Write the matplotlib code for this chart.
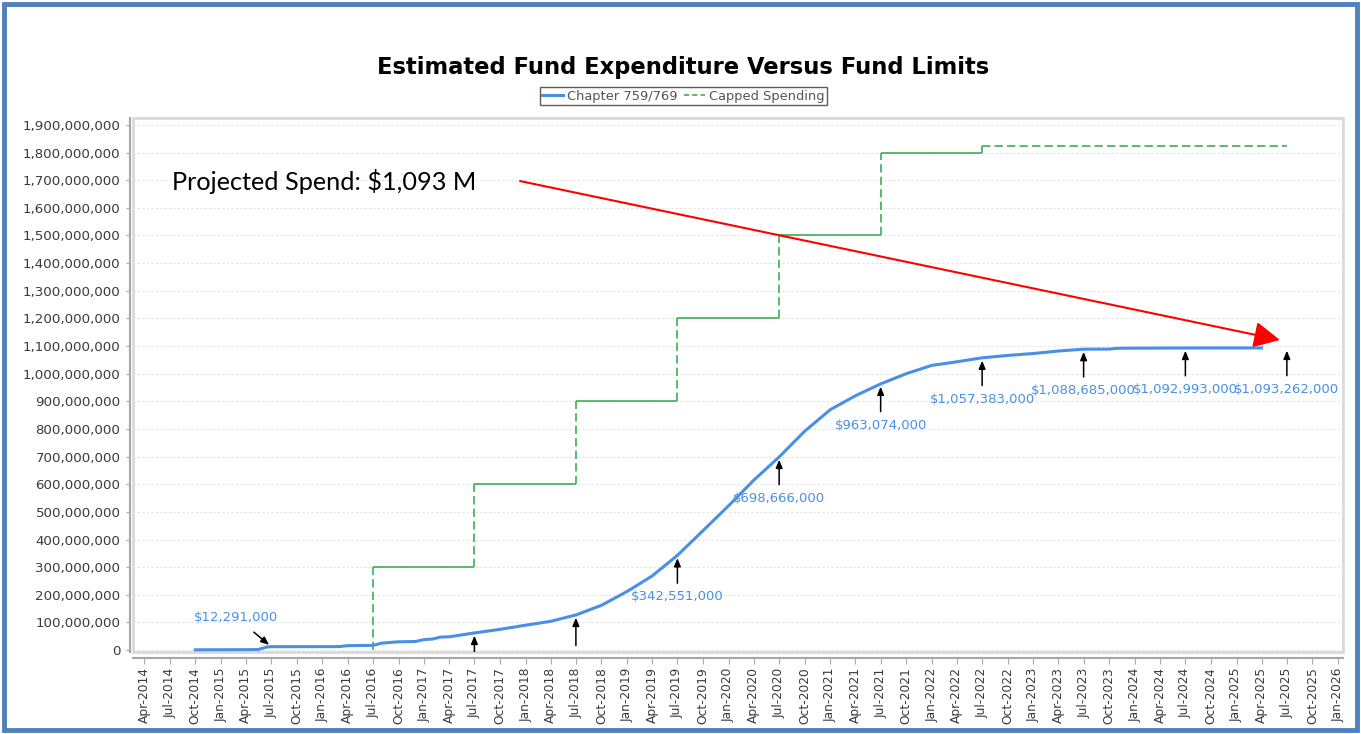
import datetime as dt
import matplotlib
matplotlib.use('Agg')
import matplotlib.pyplot as plt
import matplotlib.dates as mdates
import matplotlib.ticker as mticker
from matplotlib.collections import LineCollection
from matplotlib.lines import Line2D
from matplotlib.patches import Rectangle

#data------------------------------------------
spend_dates = ['2014-10-01', '2015-04-01', '2015-05-15', '2015-06-15', '2015-07-01',
               '2016-03-01', '2016-04-01', '2016-07-01', '2016-08-01', '2016-10-01',
               '2016-12-01', '2017-01-01', '2017-02-01', '2017-03-01', '2017-04-01',
               '2017-07-01', '2017-10-01', '2018-01-01', '2018-04-01', '2018-07-01',
               '2018-10-01', '2019-01-01', '2019-04-01', '2019-07-01', '2019-10-01',
               '2020-01-01', '2020-04-01', '2020-07-01', '2020-10-01', '2021-01-01',
               '2021-04-01', '2021-07-01', '2021-10-01', '2022-01-01', '2022-04-01',
               '2022-07-01', '2022-10-01', '2023-01-01', '2023-04-01', '2023-07-01',
               '2023-10-01', '2023-11-01', '2024-07-01', '2025-04-01']
spend_vals = [1.0e6, 1.5e6, 2.0e6, 11.0e6, 12.291e6,
              12.5e6, 16.0e6, 17.0e6, 25.0e6, 30.0e6,
              31.0e6, 38.0e6, 40.0e6, 47.0e6, 48.0e6,
              62.0e6, 75.0e6, 90.0e6, 104.0e6, 127.0e6,
              162.0e6, 212.0e6, 268.0e6, 342.551e6, 432.0e6,
              522.0e6, 615.0e6, 698.666e6, 792.0e6, 870.0e6,
              920.0e6, 963.074e6, 1000.0e6, 1030.0e6, 1043.0e6,
              1057.383e6, 1066.0e6, 1073.0e6, 1082.0e6, 1088.685e6,
              1089.0e6, 1092.0e6, 1092.993e6, 1093.262e6]

cap_dates = ['2016-07-01', '2017-07-01', '2018-07-01', '2019-07-01', '2020-07-01',
             '2021-07-01', '2022-07-01', '2025-07-01']
cap_vals = [300e6, 600e6, 900e6, 1200e6, 1500e6, 1800e6, 1825e6, 1825e6]

# pointer annotations; the 2017/2018 labels fall below the plot and are not shown
ann_dates = ['2015-07-01', '2017-07-01', '2018-07-01', '2019-07-01', '2020-07-01',
             '2021-07-01', '2022-07-01', '2023-07-01', '2024-07-01', '2025-07-01']
ann_vals = [12291000, 62000000, 127000000, 342551000, 698666000,
            963074000, 1057383000, 1088685000, 1092993000, 1093262000]
ann_labels = ['$12,291,000', '', '', '$342,551,000', '$698,666,000',
              '$963,074,000', '$1,057,383,000', '$1,088,685,000', '$1,092,993,000', '$1,093,262,000']

title = 'Estimated Fund Expenditure Versus Fund Limits'
note = 'Projected Spend: $1,093 M'

#-----------------------------------------------
def d(s):
	return dt.datetime.strptime(s, '%Y-%m-%d')

blue = '#4a8fe6'
green = '#3cae55'

fig = plt.figure(figsize=(13.61, 7.34), dpi=100)
fig.patches.append(Rectangle((0.003, 0.005), 0.994, 0.99, transform=fig.transFigure,
                             fill=False, edgecolor='#4f81bd', linewidth=3.5))

ax = fig.add_axes([0.0977, 0.1117, 0.8891, 0.7275])
ax.set_xlim(d('2014-02-19'), d('2026-01-19'))
ax.set_ylim(-7e6, 1.925e9)

# plot box + offset axes like the java chart
ax.patch.set_edgecolor('#d9d9d9')
ax.patch.set_linewidth(2)
for s in ['top', 'right']:
	ax.spines[s].set_visible(False)
ax.spines['left'].set_position(('outward', 2))
ax.spines['bottom'].set_position(('outward', 4))
for s in ['left', 'bottom']:
	ax.spines[s].set_color('#a6a6a6')
	ax.spines[s].set_linewidth(1.5)

ax.yaxis.set_major_locator(mticker.MultipleLocator(100e6))
ax.yaxis.set_major_formatter(mticker.FuncFormatter(lambda v, p: '{:,.0f}'.format(v)))
ax.xaxis.set_major_locator(mdates.MonthLocator(bymonth=[1, 4, 7, 10]))
ax.xaxis.set_major_formatter(mdates.DateFormatter('%b-%Y'))
ax.tick_params(axis='y', labelsize=9.6, colors='#a6a6a6', labelcolor='#3a3a3a', length=3, pad=4)
ax.tick_params(axis='x', labelsize=8.8, colors='#a6a6a6', labelcolor='#3a3a3a', length=4, pad=3,
               labelrotation=90)
ax.grid(axis='y', color='#e3e3e3', linestyle=(0, (2, 2)), linewidth=0.8)
ax.set_axisbelow(True)

# capped spending steps
segs = []
styles = []
prev = 0
xs = [mdates.date2num(d(s)) for s in cap_dates]
for i in range(len(xs) - 1):
	segs.append([(xs[i], prev), (xs[i], cap_vals[i])])
	styles.append((0, (5, 2.5)))
	segs.append([(xs[i], cap_vals[i]), (xs[i + 1], cap_vals[i])])
	styles.append('solid' if i < len(xs) - 2 else (0, (5, 2.5)))
	prev = cap_vals[i]
ax.add_collection(LineCollection(segs, colors=green, linewidths=1.2, linestyles=styles, zorder=2))

ax.plot([d(s) for s in spend_dates], spend_vals, color=blue, lw=2.2, zorder=3)

for i in range(len(ann_dates)):
	if i == 0:
		off = (-25, 21)
		va = 'center'
		sa = 6
	else:
		off = (0, -25)
		va = 'top'
		sa = 3
	a = ax.annotate(ann_labels[i], xy=(d(ann_dates[i]), ann_vals[i]),
	                xytext=off, textcoords='offset points', ha='center', va=va,
	                fontsize=9.5, color='#4a90e2', annotation_clip=False,
	                arrowprops=dict(arrowstyle='-|>,head_length=0.6,head_width=0.25', color='black',
	                                lw=1.1, shrinkA=sa, shrinkB=2, mutation_scale=8))
	a.arrow_patch.set_clip_path(ax.patch)

# projected spend callout
ax.text(0.032, 0.882, note, transform=ax.transAxes, fontsize=18.2, family='Lato', va='center')
ax.annotate('', xy=(d('2025-06-06'), 1.122e9), xytext=(d('2017-12-12'), 1.697e9),
            arrowprops=dict(arrowstyle='-|>,head_length=0.8,head_width=0.4', color='red',
                            lw=1.5, mutation_scale=20, shrinkA=0, shrinkB=0))

fig.text(0.502, 0.9087, title, ha='center', va='center', fontsize=16.3, fontweight='bold')
handles = [Line2D([], [], color=blue, lw=2.2),
           Line2D([], [], color=green, lw=1.2, ls=(0, (3, 2)))]
leg = fig.legend(handles, ['Chapter 759/769', 'Capped Spending'], loc='center',
                 bbox_to_anchor=(0.502, 0.869), ncol=2, fontsize=9.4, fancybox=False,
                 edgecolor='#333333', labelcolor='#555555', handlelength=1.6,
                 columnspacing=0.5, handletextpad=0.3, borderpad=0.2, borderaxespad=0)
leg.get_frame().set_linewidth(1)

plt.savefig('out.png', dpi=100)
